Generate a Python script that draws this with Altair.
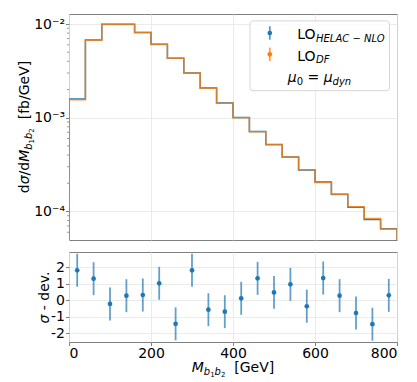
import altair as alt
import pandas as pd

# ---------------- data ----------------
edges = [0, 40, 80, 120, 160, 200, 240, 280, 320, 360, 400, 440, 480, 520, 560, 600, 640, 680, 720, 760, 800]
centers = [20, 60, 100, 140, 180, 220, 260, 300, 340, 380, 420, 460, 500, 540, 580, 620, 660, 700, 740, 780]
lo_helac = [1.58e-3, 6.75e-3, 9.92e-3, 9.93e-3, 8.12e-3, 6.07e-3, 4.32e-3, 3.01e-3, 2.08e-3, 1.44e-3,
            1.005e-3, 7.15e-4, 5.17e-4, 3.82e-4, 2.77e-4, 2.06e-4, 1.53e-4, 1.11e-4, 8.2e-5, 6.52e-5]
lo_df = [1.56e-3, 6.7e-3, 9.9e-3, 9.9e-3, 8.1e-3, 6.05e-3, 4.3e-3, 3.0e-3, 2.07e-3, 1.43e-3,
         1.0e-3, 7.1e-4, 5.15e-4, 3.8e-4, 2.78e-4, 2.04e-4, 1.52e-4, 1.12e-4, 8.4e-5, 6.5e-5]
sigma_dev = [1.82, 1.31, -0.22, 0.28, 0.32, 1.03, -1.43, 1.82, -0.57, -0.69,
             0.12, 1.33, 0.48, 0.97, -0.36, 1.35, 0.28, -0.77, -1.45, 0.30]
sigma_err = [1.0] * 20
x_ticks = [0, 200, 400, 600, 800]
y_ticks_top = [1e-4, 1e-3, 1e-2]
y_labels_top = ["10⁻⁴", "10⁻³", "10⁻²"]
minor_ticks = [6e-5, 7e-5, 8e-5, 9e-5,
               2e-4, 3e-4, 4e-4, 5e-4, 6e-4, 7e-4, 8e-4, 9e-4,
               2e-3, 3e-3, 4e-3, 5e-3, 6e-3, 7e-3, 8e-3, 9e-3]
dev_ticks = [-2, -1, 0, 1, 2]

BLUE = "#1f77b4"
ORANGE = "#ff7f0e"
FONT = "DejaVu Sans"
W, H_TOP, H_BOT = 328, 226, 90
TOP_DOMAIN = [4.96e-5, 1.279e-2]
BOT_DOMAIN = [-2.53, 2.93]

ONE = pd.DataFrame({"a": [0]})

ADV = {' ': 0.318, '0': 0.636, '1': 0.636, '2': 0.636, 'M': 0.863, 'b': 0.635, '[': 0.39, ']': 0.39,
       'G': 0.776, 'e': 0.615, 'V': 0.684, 'd': 0.635, 'σ': 0.634, '/': 0.337, 'f': 0.352,
       'L': 0.557, 'O': 0.787, 'H': 0.752, 'E': 0.632, 'A': 0.684, 'C': 0.698, 'N': 0.748,
       'D': 0.770, 'F': 0.575, '−': 0.838, '=': 0.838, 'μ': 0.636, 'y': 0.592, 'n': 0.634,
       'v': 0.592, '.': 0.318, '-': 0.361}


def tw(s, fs):
    return sum(ADV.get(c, 0.6) for c in s) * fs


def text_mark(t, x, y, fs, italic=False, angle=0):
    return alt.Chart(ONE).mark_text(
        text=t, font=FONT, fontSize=fs, fontStyle="italic" if italic else "normal",
        angle=angle, align="left", baseline="alphabetic", color="black"
    ).encode(x=alt.value(x), y=alt.value(y))


def run(pieces, x0, y0, angle=0):
    """Lay out text pieces one after another; leading/trailing blanks become offsets."""
    marks, off = [], 0.0
    for t, fs, it, sh in pieces:
        lead = len(t) - len(t.lstrip(" "))
        core = t.strip(" ")
        o = off + tw(" " * lead, fs)
        if angle == 0:
            marks.append(text_mark(core, x0 + o, y0 + sh, fs, it))
        else:
            marks.append(text_mark(core, x0 + sh, y0 - o, fs, it, angle=270))
        off += tw(t, fs)
    return marks


def run_width(pieces):
    return sum(tw(t, fs) for t, fs, _, _ in pieces)


def step_frame(vals):
    xs = [edges[0]] + edges[:-1] + [edges[-1], edges[-1]]
    ys = [1e-7] + list(vals) + [vals[-1], 1e-7]
    return pd.DataFrame({"x": xs, "y": ys, "i": list(range(len(xs)))})


x_scale = alt.Scale(domain=[0, 800], nice=False)
top_y_scale = alt.Scale(type="log", domain=TOP_DOMAIN, nice=False)

label_expr = " : ".join(
    f"datum.value < {v * 3:.0e} ? '{l}'" for v, l in zip(y_ticks_top[:-1], y_labels_top[:-1])
) + f" : '{y_labels_top[-1]}'"

x_axis_top = alt.Axis(values=x_ticks, labels=False, ticks=False, grid=True, title=None, domain=False)
y_axis_top = alt.Axis(values=y_ticks_top, labelExpr=label_expr, tickSize=3.5, labelPadding=1,
                      labelFontSize=14, grid=True, title=None, domain=False)

# ---------------- top panel ----------------
def step_layer(vals, color, opacity):
    return alt.Chart(step_frame(vals)).mark_line(
        interpolate="step-after", clip=True, color=color, strokeWidth=1.5, opacity=opacity
    ).encode(
        x=alt.X("x:Q", scale=x_scale, axis=x_axis_top),
        y=alt.Y("y:Q", scale=top_y_scale, axis=y_axis_top),
        order=alt.Order("i:Q"),
    )


minor_layer = alt.Chart(pd.DataFrame({"m": minor_ticks})).mark_rule(
    color="#808080", strokeWidth=0.8
).encode(y=alt.Y("m:Q", scale=top_y_scale, axis=y_axis_top), x=alt.value(-2), x2=alt.value(0))

# invisible anchor fixing the left extent of the layout
anchor = alt.Chart(ONE).mark_rule(color="white", opacity=0, strokeWidth=1).encode(
    x=alt.value(-60.5), x2=alt.value(-60.5), y=alt.value(100), y2=alt.value(110))

legend_box = alt.Chart(ONE).mark_rect(
    fill="white", fillOpacity=0.8, stroke="#d5d5d5", strokeWidth=1, cornerRadius=3
).encode(x=alt.value(181.0), x2=alt.value(320.5), y=alt.value(6.9), y2=alt.value(76.7))

legend_icons = []
for yc, col in [(19.0, BLUE), (40.3, ORANGE)]:
    legend_icons.append(alt.Chart(ONE).mark_rule(color=col, strokeWidth=1.8, opacity=0.75).encode(
        x=alt.value(200.8), y=alt.value(yc - 6.7), y2=alt.value(yc + 6.7)))
    legend_icons.append(alt.Chart(ONE).mark_circle(color=col, size=22, opacity=1).encode(
        x=alt.value(200.8), y=alt.value(yc)))

legend_text = []
legend_text += run([("LO", 14, False, 0), ("HELAC − NLO", 10, True, 2.5)], 228.2, 25.0)
legend_text += run([("LO", 14, False, 0), ("DF", 10, True, 2.5)], 228.2, 46.7)
legend_text += run([("μ", 14, True, 0), ("0", 10, False, 3), (" = ", 14, False, 0),
                    ("μ", 14, True, 0), ("dyn", 10, True, 3)], 218.8, 67.7)

ytitle_top = [("d", 14, False, 0), ("σ", 14, True, 0), ("/d", 14, False, 0), ("M", 14, True, 0),
              ("b", 10, True, 3), ("1", 7, False, 5), ("b", 10, True, 3), ("2", 7, False, 5),
              ("  [fb/GeV]", 14, False, 0)]
ytitle_top_marks = run(ytitle_top, -40.5, H_TOP / 2 + run_width(ytitle_top) / 2, angle=270)

top = alt.layer(
    anchor,
    minor_layer,
    step_layer(lo_helac, BLUE, 1.0),
    step_layer(lo_df, ORANGE, 0.8),
    legend_box,
    *legend_icons,
    *legend_text,
    *ytitle_top_marks,
).properties(width=W, height=H_TOP)

# ---------------- bottom panel ----------------
dev_df = pd.DataFrame({
    "c": centers,
    "d": sigma_dev,
    "lo": [d - e for d, e in zip(sigma_dev, sigma_err)],
    "hi": [d + e for d, e in zip(sigma_dev, sigma_err)],
})
bot_y_scale = alt.Scale(domain=BOT_DOMAIN, nice=False, zero=False)
x_axis_bot = alt.Axis(values=x_ticks, format="d", labelFontSize=14, tickSize=3.5, labelPadding=1,
                      grid=True, title=None, domain=False)
y_axis_bot = alt.Axis(values=dev_ticks, labelExpr="datum.value < 0 ? '-' + abs(datum.value) : '' + datum.value",
                      labelFontSize=14, tickSize=3.5, labelPadding=1, grid=True, title=None, domain=False)

bars = alt.Chart(dev_df).mark_rule(color=BLUE, strokeWidth=1.8, opacity=0.7).encode(
    x=alt.X("c:Q", scale=x_scale, axis=x_axis_bot),
    y=alt.Y("lo:Q", scale=bot_y_scale, axis=y_axis_bot),
    y2="hi:Q",
)
pts = alt.Chart(dev_df).mark_circle(color=BLUE, size=22, opacity=1).encode(
    x=alt.X("c:Q", scale=x_scale, axis=x_axis_bot),
    y=alt.Y("d:Q", scale=bot_y_scale, axis=y_axis_bot),
)

xtitle = [("M", 14, True, 0), ("b", 10, True, 3), ("1", 7, False, 5), ("b", 10, True, 3),
          ("2", 7, False, 5), ("  [GeV]", 14, False, 0)]
xtitle_marks = run(xtitle, W / 2 - run_width(xtitle) / 2, 119.7)

ytitle_bot = [("σ", 14, True, 0), (" - dev.", 14, False, 0)]
ytitle_bot_marks = run(ytitle_bot, -20.5, H_BOT / 2 + run_width(ytitle_bot) / 2, angle=270)

bottom = alt.layer(bars, pts, *xtitle_marks, *ytitle_bot_marks).properties(width=W, height=H_BOT)

chart = alt.vconcat(top, bottom, spacing=10).properties(
    padding={"left": 0, "top": 5, "right": 5, "bottom": 5}
).configure_view(
    stroke="#808080", strokeWidth=1
).configure_axis(
    gridColor="#e6e6e6", gridWidth=0.8, labelFont=FONT, labelColor="black", tickColor="#808080"
).configure_text(font=FONT)

chart.save("out.html", embed_options={"renderer": "svg", "actions": False})
